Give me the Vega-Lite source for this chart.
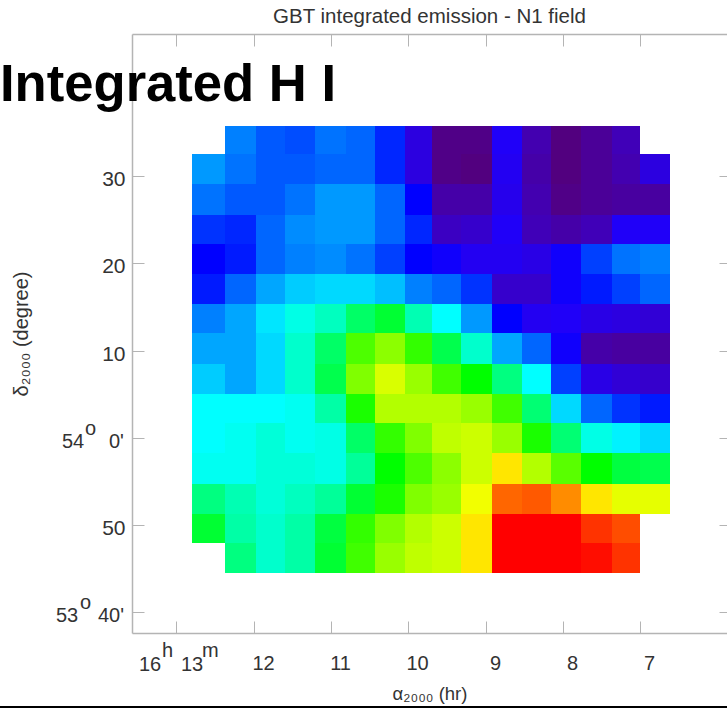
{"$schema":"https://vega.github.io/schema/vega-lite/v6.json","width":595,"height":599,"autosize":"none","padding":{"left":132,"top":34,"right":0,"bottom":75},"background":"white","config":{"view":{"stroke":null},"font":"Liberation Sans"},
"title":{"text":"GBT integrated emission - N1 field","font":"Liberation Sans","fontSize":20.5,"fontWeight":"normal","color":"#333333","anchor":"middle","offset":6},
"datasets":{
"cols":[{"c":0,"ra0":12.795,"ra1":12.369},{"c":1,"ra0":12.369,"ra1":11.970},{"c":2,"ra0":11.970,"ra1":11.595},{"c":3,"ra0":11.595,"ra1":11.207},{"c":4,"ra0":11.207,"ra1":10.809},{"c":5,"ra0":10.809,"ra1":10.434},{"c":6,"ra0":10.434,"ra1":10.042},{"c":7,"ra0":10.042,"ra1":9.693},{"c":8,"ra0":9.693,"ra1":9.317},{"c":9,"ra0":9.317,"ra1":8.920},{"c":10,"ra0":8.920,"ra1":8.532},{"c":11,"ra0":8.532,"ra1":8.156},{"c":12,"ra0":8.156,"ra1":7.764},{"c":13,"ra0":7.764,"ra1":7.367},{"c":14,"ra0":7.367,"ra1":6.997},{"c":15,"ra0":6.997,"ra1":6.612}],
"rows":[{"r":0,"d0":95.83,"d1":92.54},{"r":1,"d0":92.54,"d1":89.09},{"r":2,"d0":89.09,"d1":85.57},{"r":3,"d0":85.57,"d1":82.23},{"r":4,"d0":82.23,"d1":78.75},{"r":5,"d0":78.75,"d1":75.30},{"r":6,"d0":75.30,"d1":71.97},{"r":7,"d0":71.97,"d1":68.44},{"r":8,"d0":68.44,"d1":64.99},{"r":9,"d0":64.99,"d1":61.62},{"r":10,"d0":61.62,"d1":58.17},{"r":11,"d0":58.17,"d1":54.65},{"r":12,"d0":54.65,"d1":51.20},{"r":13,"d0":51.20,"d1":47.83},{"r":14,"d0":47.83,"d1":44.38}],
"cells":[
{"r":0,"c":1,"v":30},{"r":0,"c":2,"v":27},{"r":0,"c":3,"v":26},{"r":0,"c":4,"v":29},{"r":0,"c":5,"v":28},{"r":0,"c":6,"v":23},{"r":0,"c":7,"v":12},{"r":0,"c":8,"v":2},{"r":0,"c":9,"v":2},{"r":0,"c":10,"v":16},{"r":0,"c":11,"v":7},{"r":0,"c":12,"v":1},{"r":0,"c":13,"v":4},{"r":0,"c":14,"v":8},
{"r":1,"c":0,"v":32},{"r":1,"c":1,"v":29},{"r":1,"c":2,"v":27},{"r":1,"c":3,"v":27},{"r":1,"c":4,"v":28},{"r":1,"c":5,"v":28},{"r":1,"c":6,"v":23},{"r":1,"c":7,"v":12},{"r":1,"c":8,"v":2},{"r":1,"c":9,"v":1},{"r":1,"c":10,"v":15},{"r":1,"c":11,"v":6},{"r":1,"c":12,"v":1},{"r":1,"c":13,"v":4},{"r":1,"c":14,"v":7},{"r":1,"c":15,"v":12},
{"r":2,"c":0,"v":29},{"r":2,"c":1,"v":27},{"r":2,"c":2,"v":27},{"r":2,"c":3,"v":29},{"r":2,"c":4,"v":32},{"r":2,"c":5,"v":32},{"r":2,"c":6,"v":28},{"r":2,"c":7,"v":20},{"r":2,"c":8,"v":6},{"r":2,"c":9,"v":6},{"r":2,"c":10,"v":14},{"r":2,"c":11,"v":7},{"r":2,"c":12,"v":2},{"r":2,"c":13,"v":4},{"r":2,"c":14,"v":5},{"r":2,"c":15,"v":5},
{"r":3,"c":0,"v":24},{"r":3,"c":1,"v":23},{"r":3,"c":2,"v":28},{"r":3,"c":3,"v":31},{"r":3,"c":4,"v":32},{"r":3,"c":5,"v":32},{"r":3,"c":6,"v":28},{"r":3,"c":7,"v":23},{"r":3,"c":8,"v":9},{"r":3,"c":9,"v":10},{"r":3,"c":10,"v":16},{"r":3,"c":11,"v":8},{"r":3,"c":12,"v":6},{"r":3,"c":13,"v":8},{"r":3,"c":14,"v":16},{"r":3,"c":15,"v":16},
{"r":4,"c":0,"v":20},{"r":4,"c":1,"v":22},{"r":4,"c":2,"v":28},{"r":4,"c":3,"v":30},{"r":4,"c":4,"v":31},{"r":4,"c":5,"v":29},{"r":4,"c":6,"v":25},{"r":4,"c":7,"v":20},{"r":4,"c":8,"v":18},{"r":4,"c":9,"v":15},{"r":4,"c":10,"v":15},{"r":4,"c":11,"v":13},{"r":4,"c":12,"v":18},{"r":4,"c":13,"v":25},{"r":4,"c":14,"v":29},{"r":4,"c":15,"v":30},
{"r":5,"c":0,"v":22},{"r":5,"c":1,"v":28},{"r":5,"c":2,"v":33},{"r":5,"c":3,"v":36},{"r":5,"c":4,"v":37},{"r":5,"c":5,"v":37},{"r":5,"c":6,"v":35},{"r":5,"c":7,"v":30},{"r":5,"c":8,"v":28},{"r":5,"c":9,"v":24},{"r":5,"c":10,"v":10},{"r":5,"c":11,"v":10},{"r":5,"c":12,"v":18},{"r":5,"c":13,"v":22},{"r":5,"c":14,"v":25},{"r":5,"c":15,"v":28},
{"r":6,"c":0,"v":30},{"r":6,"c":1,"v":33},{"r":6,"c":2,"v":38},{"r":6,"c":3,"v":42},{"r":6,"c":4,"v":45},{"r":6,"c":5,"v":52},{"r":6,"c":6,"v":56},{"r":6,"c":7,"v":46},{"r":6,"c":8,"v":40},{"r":6,"c":9,"v":32},{"r":6,"c":10,"v":20},{"r":6,"c":11,"v":15},{"r":6,"c":12,"v":16},{"r":6,"c":13,"v":13},{"r":6,"c":14,"v":12},{"r":6,"c":15,"v":11},
{"r":7,"c":0,"v":33},{"r":7,"c":1,"v":33},{"r":7,"c":2,"v":37},{"r":7,"c":3,"v":44},{"r":7,"c":4,"v":52},{"r":7,"c":5,"v":66},{"r":7,"c":6,"v":71},{"r":7,"c":7,"v":64},{"r":7,"c":8,"v":54},{"r":7,"c":9,"v":44},{"r":7,"c":10,"v":33},{"r":7,"c":11,"v":28},{"r":7,"c":12,"v":18},{"r":7,"c":13,"v":6},{"r":7,"c":14,"v":5},{"r":7,"c":15,"v":5},
{"r":8,"c":0,"v":36},{"r":8,"c":1,"v":33},{"r":8,"c":2,"v":37},{"r":8,"c":3,"v":44},{"r":8,"c":4,"v":54},{"r":8,"c":5,"v":70},{"r":8,"c":6,"v":77},{"r":8,"c":7,"v":72},{"r":8,"c":8,"v":65},{"r":8,"c":9,"v":60},{"r":8,"c":10,"v":50},{"r":8,"c":11,"v":40},{"r":8,"c":12,"v":25},{"r":8,"c":13,"v":13},{"r":8,"c":14,"v":11},{"r":8,"c":15,"v":10},
{"r":9,"c":0,"v":40},{"r":9,"c":1,"v":40},{"r":9,"c":2,"v":40},{"r":9,"c":3,"v":41},{"r":9,"c":4,"v":47},{"r":9,"c":5,"v":62},{"r":9,"c":6,"v":74},{"r":9,"c":7,"v":74},{"r":9,"c":8,"v":74},{"r":9,"c":9,"v":72},{"r":9,"c":10,"v":65},{"r":9,"c":11,"v":51},{"r":9,"c":12,"v":37},{"r":9,"c":13,"v":28},{"r":9,"c":14,"v":24},{"r":9,"c":15,"v":22},
{"r":10,"c":0,"v":40},{"r":10,"c":1,"v":41},{"r":10,"c":2,"v":43},{"r":10,"c":3,"v":41},{"r":10,"c":4,"v":42},{"r":10,"c":5,"v":52},{"r":10,"c":6,"v":64},{"r":10,"c":7,"v":70},{"r":10,"c":8,"v":75},{"r":10,"c":9,"v":76},{"r":10,"c":10,"v":72},{"r":10,"c":11,"v":62},{"r":10,"c":12,"v":51},{"r":10,"c":13,"v":42},{"r":10,"c":14,"v":39},{"r":10,"c":15,"v":37},
{"r":11,"c":0,"v":41},{"r":11,"c":1,"v":41},{"r":11,"c":2,"v":43},{"r":11,"c":3,"v":43},{"r":11,"c":4,"v":42},{"r":11,"c":5,"v":48},{"r":11,"c":6,"v":60},{"r":11,"c":7,"v":66},{"r":11,"c":8,"v":71},{"r":11,"c":9,"v":76},{"r":11,"c":10,"v":82},{"r":11,"c":11,"v":74},{"r":11,"c":12,"v":67},{"r":11,"c":13,"v":60},{"r":11,"c":14,"v":55},{"r":11,"c":15,"v":54},
{"r":12,"c":0,"v":50},{"r":12,"c":1,"v":46},{"r":12,"c":2,"v":43},{"r":12,"c":3,"v":45},{"r":12,"c":4,"v":48},{"r":12,"c":5,"v":56},{"r":12,"c":6,"v":62},{"r":12,"c":7,"v":70},{"r":12,"c":8,"v":72},{"r":12,"c":9,"v":79},{"r":12,"c":10,"v":92},{"r":12,"c":11,"v":93},{"r":12,"c":12,"v":89},{"r":12,"c":13,"v":82},{"r":12,"c":14,"v":78},{"r":12,"c":15,"v":78},
{"r":13,"c":0,"v":56},{"r":13,"c":1,"v":47},{"r":13,"c":2,"v":44},{"r":13,"c":3,"v":47},{"r":13,"c":4,"v":55},{"r":13,"c":5,"v":64},{"r":13,"c":6,"v":70},{"r":13,"c":7,"v":74},{"r":13,"c":8,"v":76},{"r":13,"c":9,"v":82},{"r":13,"c":10,"v":100},{"r":13,"c":11,"v":100},{"r":13,"c":12,"v":100},{"r":13,"c":13,"v":96},{"r":13,"c":14,"v":94},
{"r":14,"c":1,"v":50},{"r":14,"c":2,"v":44},{"r":14,"c":3,"v":47},{"r":14,"c":4,"v":56},{"r":14,"c":5,"v":65},{"r":14,"c":6,"v":72},{"r":14,"c":7,"v":75},{"r":14,"c":8,"v":76},{"r":14,"c":9,"v":82},{"r":14,"c":10,"v":100},{"r":14,"c":11,"v":100},{"r":14,"c":12,"v":100},{"r":14,"c":13,"v":99},{"r":14,"c":14,"v":96}],
"notes":[{"ra":13.484,"dec":33.15,"t":"16"},{"ra":13.187,"dec":34.76,"t":"h"},{"ra":12.941,"dec":33.15,"t":"13"},{"ra":12.669,"dec":34.76,"t":"m"},{"ra":14.481,"dec":58.84,"t":"54"},{"ra":14.183,"dec":60.28,"t":"o"},{"ra":13.873,"dec":58.84,"t":"0'"},{"ra":14.559,"dec":38.82,"t":"53"},{"ra":14.248,"dec":40.28,"t":"o"},{"ra":14.015,"dec":38.82,"t":"40'"}],
"heading":[{"ra":15.283,"dec":98.67,"t":"Integrated H I"}]
},
"resolve":{"axis":{"x":"independent","y":"independent"}},
"layer":[
{"data":{"name":"cells"},
"transform":[{"lookup":"c","from":{"data":{"name":"cols"},"key":"c","fields":["ra0","ra1"]}},{"lookup":"r","from":{"data":{"name":"rows"},"key":"r","fields":["d0","d1"]}}],
"mark":{"type":"rect","strokeWidth":0},
"encoding":{
"x":{"field":"ra0","type":"quantitative","scale":{"domain":[13.575,5.875],"round":true,"nice":false,"zero":false},
"axis":{"orient":"bottom","title":"α₂₀₀₀ (hr)","titleFont":"Liberation Sans","titleFontSize":18.5,"titleFontWeight":"normal","titleColor":"#333333","titlePadding":11,"values":[13,12,11,10,9,8,7],"labelExpr":"datum.value==13?'':datum.value","grid":false,"domainColor":"#b4b4b4","domainWidth":1.5,"tickColor":"#b4b4b4","tickSize":-12,"tickWidth":1,"labelFont":"Liberation Sans","labelFontSize":20,"labelColor":"#333333","labelOffset":9,"labelPadding":32,"labelFlush":false,"labelOverlap":false}},
"x2":{"field":"ra1"},
"y":{"field":"d0","type":"quantitative","scale":{"domain":[37.54,106.37],"round":true,"nice":false,"zero":false},
"axis":{"orient":"left","title":"δ₂₀₀₀ (degree)","titleFont":"Liberation Sans","titleFontSize":20,"titleFontWeight":"normal","titleColor":"#333333","titlePadding":70,"values":[40,50,60,70,80,90],"labelExpr":"datum.value==70?'10':datum.value==80?'20':datum.value==90?'30':datum.value==50?'50':''","grid":false,"domainColor":"#b4b4b4","domainWidth":1.5,"tickColor":"#b4b4b4","tickSize":-12,"tickWidth":1,"labelFont":"Liberation Sans","labelFontSize":21,"labelColor":"#333333","labelOffset":3,"labelPadding":19,"labelFlush":false,"labelOverlap":false}},
"y2":{"field":"d1"},
"color":{"field":"v","type":"quantitative","legend":null,"scale":{"type":"linear","domain":[0,8,12,16,20,40,60,80,100],"range":["#550077","#4000b8","#2c00e0","#2000f8","#0000ff","#00ffff","#00ff00","#ffff00","#ff0000"],"interpolate":"rgb"}}}},
{"data":{"name":"notes"},
"mark":{"type":"text","align":"left","baseline":"alphabetic","font":"Liberation Sans","fontSize":20,"color":"#333333","clip":false},
"encoding":{
"x":{"field":"ra","type":"quantitative","axis":{"orient":"top","title":null,"labels":false,"values":[13,12,11,10,9,8,7],"grid":false,"domainColor":"#b4b4b4","domainWidth":1.5,"tickColor":"#b4b4b4","tickSize":-12}},
"y":{"field":"dec","type":"quantitative","axis":{"orient":"right","title":null,"labels":false,"values":[40,50,60,70,80,90],"grid":false,"domain":false,"tickColor":"#b4b4b4","tickSize":-8}},
"text":{"field":"t"}}},
{"data":{"name":"heading"},
"mark":{"type":"text","align":"left","baseline":"alphabetic","font":"Liberation Sans","fontSize":52.6,"fontWeight":"bold","color":"#000000","clip":false},
"encoding":{
"x":{"field":"ra","type":"quantitative","axis":null},
"y":{"field":"dec","type":"quantitative","axis":null},
"text":{"field":"t"}}},
{"data":{"values":[{"a":15.4,"b":5.875,"d":29.01}]},
"mark":{"type":"rule","color":"#000000","strokeWidth":2,"clip":false},
"encoding":{
"x":{"field":"a","type":"quantitative","axis":null},
"x2":{"field":"b"},
"y":{"field":"d","type":"quantitative","axis":null}}}
]}
